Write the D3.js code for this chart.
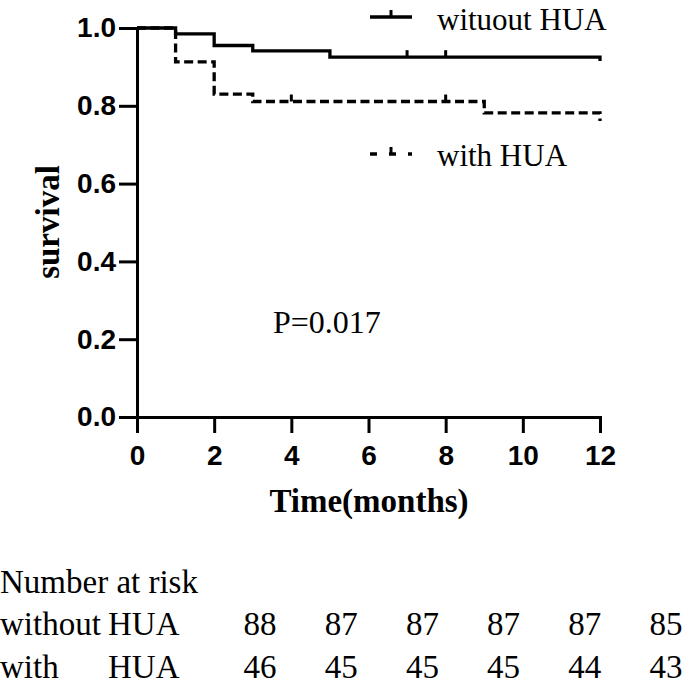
<!DOCTYPE html>
<html>
<head>
<meta charset="utf-8">
<script src="https://cdn.jsdelivr.net/npm/d3@7"></script>
<style>
  html, body { margin: 0; padding: 0; background: #fff; }
  svg { display: block; }
</style>
</head>
<body>
<div id="chart"></div>
<script>
// ---------- data ----------
const seriesNames = ["wituout HUA", "with HUA"];
// Kaplan-Meier step curves: times of events and survival after each event
const withoutTimes = [0, 1, 2, 3, 5, 12];
const withoutSurv  = [1.0, 0.985, 0.955, 0.941, 0.925, 0.915];
const withoutCensorTimes = [7, 8];
const withTimes = [0, 1, 2, 3, 9, 12];
const withSurv  = [1.0, 0.913, 0.830, 0.811, 0.782, 0.761];
const withCensorTimes = [4, 8];

const xTicks = [0, 2, 4, 6, 8, 10, 12];
const yTicks = [0.0, 0.2, 0.4, 0.6, 0.8, 1.0];
const pValueLabel = "P=0.017";

const riskTitle = "Number at risk";
const riskRowLabels = [["without", "HUA"], ["with", "HUA"]];
const riskWithout = [88, 87, 87, 87, 87, 85];
const riskWith    = [46, 45, 45, 45, 44, 43];

// ---------- layout ----------
const W = 685, H = 688;
const sans = "'Liberation Sans', Arial, Helvetica, sans-serif";
const serif = "'Liberation Serif', 'Times New Roman', Times, serif";

const svg = d3.select("#chart").append("svg")
  .attr("width", W).attr("height", H);

const x = d3.scaleLinear().domain([0, 12]).range([137, 600]);
const y = d3.scaleLinear().domain([0, 1]).range([417, 28]);

// axes
const xAxis = d3.axisBottom(x).tickValues(xTicks).tickSize(16).tickSizeOuter(0).tickPadding(12)
  .tickFormat(d3.format("d"));
const yAxis = d3.axisLeft(y).tickValues(yTicks).tickSize(18).tickSizeOuter(0).tickPadding(3)
  .tickFormat(d3.format(".1f"));

const gx = svg.append("g").attr("transform", `translate(0,${y(0)})`).call(xAxis);
const gy = svg.append("g").attr("transform", `translate(${x(0)},0)`).call(yAxis);

[gx, gy].forEach(g => {
  g.select(".domain").attr("stroke", "#000").attr("stroke-width", 3).attr("stroke-linecap", "square");
  g.selectAll(".tick line").attr("stroke", "#000").attr("stroke-width", 3);
  g.selectAll(".tick text")
    .attr("fill", "#000")
    .style("font-family", sans)
    .style("font-weight", "bold")
    .style("font-size", "28px");
});
gx.selectAll(".tick text").attr("dy", "0.71em");

// axis titles
svg.append("text")
  .attr("transform", `translate(59,222) rotate(-90)`)
  .attr("text-anchor", "middle")
  .style("font-family", serif).style("font-weight", "bold").style("font-size", "33px")
  .text("survival");

svg.append("text")
  .attr("x", 369).attr("y", 512)
  .attr("text-anchor", "middle")
  .style("font-family", serif).style("font-weight", "bold").style("font-size", "33px")
  .text("Time(months)");

// curves
const stepLine = d3.line().x(d => x(d[0])).y(d => y(d[1])).curve(d3.curveStepAfter);

function drawCurve(times, surv, censor, dashed) {
  const pts = times.map((t, i) => [t, surv[i]]);
  svg.append("path")
    .datum(pts)
    .attr("d", stepLine)
    .attr("fill", "none")
    .attr("stroke", "#000")
    .attr("stroke-width", 3.3)
    .attr("stroke-dasharray", dashed ? "9,4.5" : null);
  // censor ticks
  const survAt = t => {
    let s = surv[0];
    times.forEach((tt, i) => { if (tt <= t) s = surv[i]; });
    return s;
  };
  svg.selectAll(null).data(censor).enter().append("line")
    .attr("x1", d => x(d)).attr("x2", d => x(d))
    .attr("y1", d => y(survAt(d)))
    .attr("y2", d => y(survAt(d)) - 7)
    .attr("stroke", "#000").attr("stroke-width", 3);
}
drawCurve(withoutTimes, withoutSurv, withoutCensorTimes, false);
drawCurve(withTimes, withSurv, withCensorTimes, true);

// legend
const legend = [
  { name: seriesNames[0], ly: 17, ty: 29.5, dashed: false },
  { name: seriesNames[1], ly: 154, ty: 166, dashed: true }
];
legend.forEach(l => {
  svg.append("line")
    .attr("x1", 370).attr("x2", 412).attr("y1", l.ly).attr("y2", l.ly)
    .attr("stroke", "#000").attr("stroke-width", 3.3)
    .attr("stroke-dasharray", l.dashed ? "7,12" : null);
  svg.append("line")
    .attr("x1", 391).attr("x2", 391).attr("y1", l.ly).attr("y2", l.ly - 7)
    .attr("stroke", "#000").attr("stroke-width", 3);
  svg.append("text")
    .attr("x", 437).attr("y", l.ty)
    .style("font-family", serif).style("font-size", "31px")
    .text(l.name);
});

// p value
svg.append("text")
  .attr("x", 273).attr("y", 333)
  .style("font-family", serif).style("font-size", "32px")
  .text(pValueLabel);

// risk table
const riskFont = "33px";
svg.append("text").attr("x", 0).attr("y", 593)
  .style("font-family", serif).style("font-size", riskFont).text(riskTitle);

const colX = d3.scalePoint().domain(d3.range(riskWithout.length)).range([260, 666]);
[riskWithout, riskWith].forEach((row, r) => {
  const by = 635 + r * 43;
  svg.append("text").attr("x", 0).attr("y", by)
    .style("font-family", serif).style("font-size", riskFont).text(riskRowLabels[r][0]);
  svg.append("text").attr("x", 108).attr("y", by)
    .style("font-family", serif).style("font-size", riskFont).text(riskRowLabels[r][1]);
  svg.selectAll(null).data(row).enter().append("text")
    .attr("x", (d, i) => colX(i)).attr("y", by)
    .attr("text-anchor", "middle")
    .style("font-family", serif).style("font-size", riskFont)
    .text(d => d);
});
</script>
</body>
</html>
